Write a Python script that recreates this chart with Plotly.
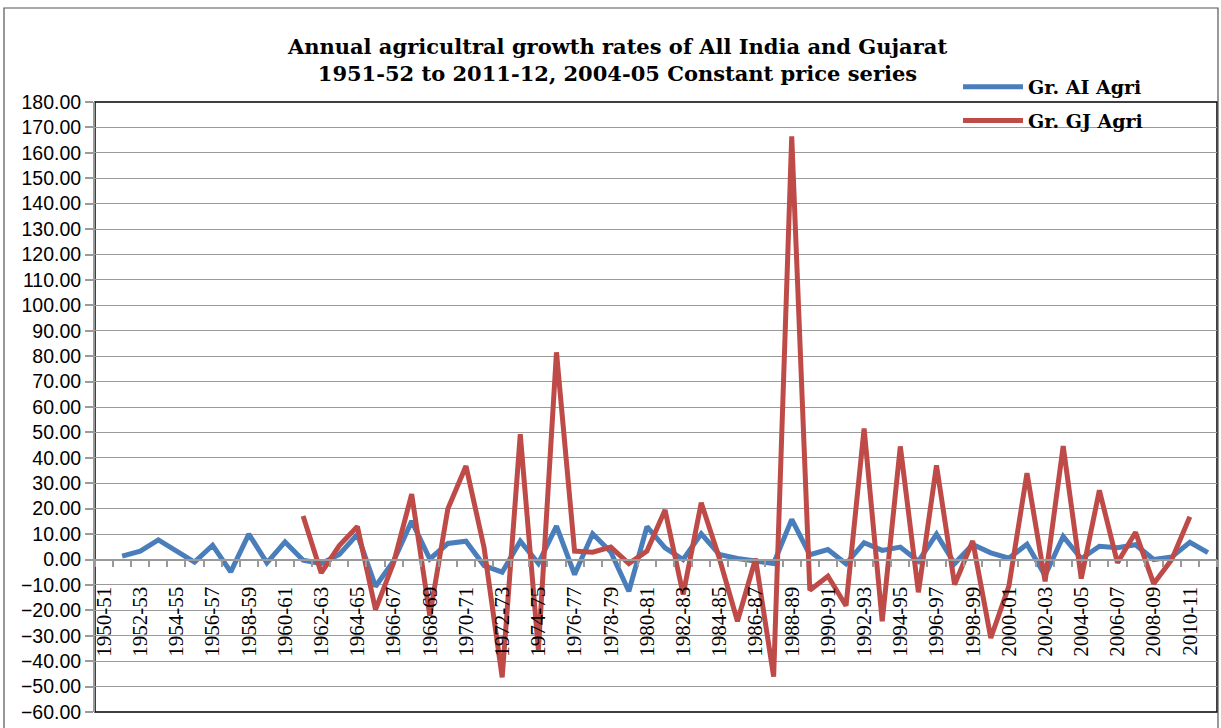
import plotly.graph_objects as go

years = [
    "1950-51", "1951-52", "1952-53", "1953-54", "1954-55", "1955-56", "1956-57", "1957-58",
    "1958-59", "1959-60", "1960-61", "1961-62", "1962-63", "1963-64", "1964-65", "1965-66",
    "1966-67", "1967-68", "1968-69", "1969-70", "1970-71", "1971-72", "1972-73", "1973-74",
    "1974-75", "1975-76", "1976-77", "1977-78", "1978-79", "1979-80", "1980-81", "1981-82",
    "1982-83", "1983-84", "1984-85", "1985-86", "1986-87", "1987-88", "1988-89", "1989-90",
    "1990-91", "1991-92", "1992-93", "1993-94", "1994-95", "1995-96", "1996-97", "1997-98",
    "1998-99", "1999-00", "2000-01", "2001-02", "2002-03", "2003-04", "2004-05", "2005-06",
    "2006-07", "2007-08", "2008-09", "2009-10", "2010-11", "2011-12",
]

gr_ai_agri = [
    None, 1.3, 3.3, 7.7, 3.3, -1.0, 5.6, -4.9, 10.0, -1.3,
    6.9, -0.3, -1.6, 2.0, 9.9, -10.6, -0.6, 15.1, 0.2, 6.3,
    7.2, -2.4, -5.0, 7.2, -1.5, 13.1, -5.9, 10.1, 3.0, -12.5,
    12.9, 4.6, 0.0, 10.1, 2.0, 0.4, -0.6, -1.6, 15.8, 1.9,
    3.9, -1.7, 6.6, 3.6, 4.9, -0.7, 10.0, -1.6, 5.9, 2.6,
    0.5, 6.0, -6.3, 9.1, 0.3, 5.2, 4.6, 5.8, 0.0, 1.0,
    6.8, 2.7,
]

gr_gj_agri = [
    None, None, None, None, None, None, None, None, None, None,
    None, 17.1, -5.3, 5.5, 13.0, -19.7, -1.3, 25.7, -22.1, 20.0,
    36.8, 4.6, -46.4, 49.3, -35.5, 81.5, 3.3, 2.9, 4.9, -1.6,
    3.3, 19.5, -13.8, 22.3, 0.5, -24.3, 0.3, -46.1, 166.5, -12.1,
    -6.6, -18.2, 51.5, -24.3, 44.5, -12.9, 37.0, -9.9, 7.3, -30.9,
    -10.5, 34.0, -8.6, 44.6, -7.5, 27.2, -1.3, 10.7, -9.5, 0.0,
    16.8, None,
]

x_ticktext = [y if i % 2 == 0 else "" for i, y in enumerate(years)]

BLUE = "#4A7EBB"
RED = "#BE4B48"
GRID = "#9a9a9a"

fig = go.Figure()
fig.add_trace(go.Scatter(x=years, y=gr_ai_agri, mode="lines", name="Gr. AI Agri",
                         line=dict(color=BLUE, width=5), legendgroup="a"))
fig.add_trace(go.Scatter(x=years, y=gr_gj_agri, mode="lines", name="Gr. GJ Agri",
                         line=dict(color=RED, width=5), legendgroup="b"))

L, R, T, B = 95, 4, 102, 16
W, H = 1221, 728
pw, ph = W - L - R, H - T - B

fig.update_layout(
    width=W, height=H,
    margin=dict(l=L, r=R, t=T, b=B, autoexpand=False),
    paper_bgcolor="white", plot_bgcolor="white",
    title=dict(
        text="<b>Annual agricultral growth rates of All India and Gujarat<br>"
             "1951-52 to 2011-12, 2004-05 Constant price series</b>",
        font=dict(family="DejaVu Serif", size=21, color="black"),
        xref="container", x=617.5 / W, xanchor="center",
        yref="container", y=1 - 54 / H, yanchor="middle",
    ),
    showlegend=True,
    legend=dict(
        x=(958 - L) / pw, xanchor="left",
        y=(H - B - 68) / ph, yanchor="top", yref="paper",
        bgcolor="rgba(0,0,0,0)",
        font=dict(family="DejaVu Serif", size=19, color="black", weight="bold"),
        tracegroupgap=6, itemwidth=60,
    ),
    xaxis=dict(
        type="category", range=[-0.5, len(years) - 0.5],
        tickmode="array", tickvals=years, ticktext=x_ticktext,
        tickson="boundaries", ticks="outside", ticklen=7, tickwidth=1.5, tickcolor=GRID,
        tickangle=-90, ticklabelstandoff=18,
        tickfont=dict(family="Liberation Serif", size=21, color="black"),
        showline=True, linecolor=GRID, linewidth=1.5,
        showgrid=False, zeroline=False,
        anchor="free", position=0.25,
    ),
    yaxis=dict(
        range=[-60, 180], dtick=10, tick0=0, tickformat=".2f",
        ticks="outside", ticklen=8, tickwidth=1.5, tickcolor=GRID,
        tickfont=dict(family="Liberation Sans", size=19.5, color="black"),
        showgrid=True, gridcolor=GRID, gridwidth=1.3,
        showline=True, linecolor=GRID, linewidth=2,
        zeroline=False,
    ),
    shapes=[
        dict(type="rect", xref="paper", yref="paper", x0=0, x1=1, y0=0, y1=1,
             line=dict(color="black", width=1.5), layer="between"),
        dict(type="rect", xref="paper", yref="paper",
             x0=(4 - L) / pw, x1=(1218 - L) / pw,
             y0=-0.2, y1=(H - B - 8) / ph,
             line=dict(color="#555555", width=1.2), layer="below"),
    ],
)

fig.write_html("out.html")
